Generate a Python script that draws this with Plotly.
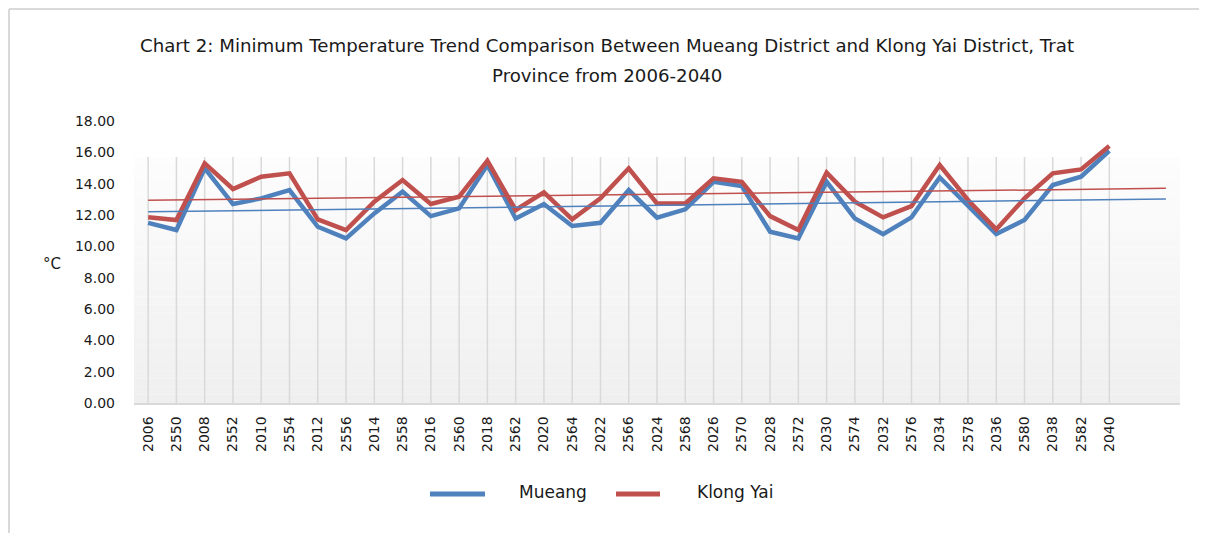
import numpy as np
import plotly.graph_objects as go

tick_labels = ["2006", "2550", "2008", "2552", "2010", "2554", "2012", "2556", "2014", "2558",
               "2016", "2560", "2018", "2562", "2020", "2564", "2022", "2566", "2024", "2568",
               "2026", "2570", "2028", "2572", "2030", "2574", "2032", "2576", "2034", "2578",
               "2036", "2580", "2038", "2582", "2040"]

mueang = [11.50, 11.04, 14.98, 12.70, 13.06, 13.59, 11.25, 10.51, 12.10, 13.49,
          11.93, 12.42, 15.19, 11.78, 12.70, 11.30, 11.50, 13.59, 11.83, 12.36,
          14.12, 13.85, 10.93, 10.51, 14.12, 11.78, 10.78, 11.85, 14.40, 12.64,
          10.78, 11.68, 13.91, 14.44, 16.10]

klong_yai = [11.85, 11.68, 15.30, 13.66, 14.44, 14.66, 11.72, 11.04, 12.85, 14.23,
             12.70, 13.17, 15.46, 12.32, 13.44, 11.72, 13.06, 14.98, 12.74, 12.74,
             14.34, 14.12, 11.93, 11.04, 14.70, 12.85, 11.85, 12.57, 15.19, 12.96,
             11.08, 13.06, 14.66, 14.91, 16.40]

series_names = ["Mueang", "Klong Yai"]
forecast_periods = 2

BLUE = "#4F81BD"
RED = "#C0504D"
FONT = "DejaVu Sans, Noto Sans, sans-serif"

# page body has an 8px default margin: figure drawn 8px smaller and offsets compensated
OFF = 8
W, H = 1207 - OFF, 533 - OFF
PL, PR, PT, PB = 134, 1180, 121, 403          # target plot area in window pixels
L, R, T, B = PL - OFF, W - (PR - OFF), PT - OFF, H - (PB - OFF)
PW, PH = W - L - R, H - T - B


def px_x(p):
    return (p - OFF - L) / PW


def px_y(p):
    return (H - B - (p - OFF)) / PH


x = np.arange(len(tick_labels))
x_trend = np.array([0, len(tick_labels) - 1 + forecast_periods])

fig = go.Figure()

# gradient plot background (white top -> light grey bottom)
n_strips = 30
top_val, bot_val = 15.7, 0.0
for k in range(n_strips):
    y0 = top_val - (top_val - bot_val) * k / n_strips
    y1 = top_val - (top_val - bot_val) * (k + 1) / n_strips
    c = int(round(253 - 14 * (k + 0.5) / n_strips))
    fig.add_shape(type="rect", xref="paper", yref="y", x0=0, x1=1, y0=y1, y1=y0,
                  fillcolor=f"rgb({c},{c},{c})", line=dict(width=0), layer="below")

# vertical category gridlines
for xi in x:
    fig.add_shape(type="line", xref="x", yref="y", x0=xi, x1=xi, y0=0, y1=top_val,
                  line=dict(color="#D9D9D9", width=1.5), layer="below")

for name, series, col in ((series_names[0], mueang, BLUE), (series_names[1], klong_yai, RED)):
    fig.add_trace(go.Scatter(x=x, y=series, mode="lines", name=name, showlegend=False,
                             line=dict(color=col, width=4.5)))

for series, col in ((mueang, BLUE), (klong_yai, RED)):
    m, b = np.polyfit(x, series, 1)
    fig.add_trace(go.Scatter(x=x_trend, y=m * x_trend + b, mode="lines", showlegend=False,
                             line=dict(color=col, width=1.5)))

fig.update_layout(
    width=W, height=H,
    margin=dict(l=L, r=R, t=T, b=B, autoexpand=False),
    paper_bgcolor="white", plot_bgcolor="white",
    font=dict(family=FONT, color="#1a1a1a"),
    showlegend=False,
    xaxis=dict(range=[-0.5, len(tick_labels) - 1 + forecast_periods + 0.5],
               tickmode="array", tickvals=list(x), ticktext=tick_labels,
               tickangle=-90, tickfont=dict(size=14), showgrid=False, zeroline=False,
               showline=True, linecolor="#D9D9D9", linewidth=1.5, ticks="",
               ticklabelstandoff=6),
    yaxis=dict(range=[0, 18], tickvals=[0, 2, 4, 6, 8, 10, 12, 14, 16, 18],
               ticktext=["0.00", "2.00", "4.00", "6.00", "8.00", "10.00", "12.00", "14.00", "16.00", "18.00"],
               tickfont=dict(size=14), showgrid=False, zeroline=False, showline=False,
               ticks="", ticklabelstandoff=18),
)

# title (two lines)
fig.add_annotation(text="Chart 2: Minimum Temperature Trend Comparison Between Mueang District and Klong Yai District, Trat",
                   xref="paper", yref="paper", x=px_x(607), y=px_y(45), showarrow=False,
                   xanchor="center", yanchor="middle", font=dict(size=18.2))
fig.add_annotation(text="Province from 2006-2040",
                   xref="paper", yref="paper", x=px_x(607), y=px_y(75), showarrow=False,
                   xanchor="center", yanchor="middle", font=dict(size=18.2))

fig.add_annotation(text="°C", xref="paper", yref="paper", x=px_x(52), y=px_y(264),
                   showarrow=False, font=dict(size=15), xanchor="center", yanchor="middle")

# legend (drawn manually to match spacing)
leg_y = px_y(494)
for (x0, x1, tx, name, col) in ((430, 485, 517, series_names[0], BLUE),
                                (616, 660, 695, series_names[1], RED)):
    fig.add_shape(type="line", xref="paper", yref="paper", x0=px_x(x0), x1=px_x(x1),
                  y0=leg_y, y1=leg_y, line=dict(color=col, width=5))
    fig.add_annotation(text=name, xref="paper", yref="paper", x=px_x(tx), y=px_y(492),
                       showarrow=False, xanchor="left", yanchor="middle", font=dict(size=17))

# outer chart border (top and left visible in reference), kept just inside the figure
fig.add_shape(type="line", xref="paper", yref="paper", x0=px_x(9), x1=px_x(1207), y0=px_y(9), y1=px_y(9),
              line=dict(color="#D9D9D9", width=2))
fig.add_shape(type="line", xref="paper", yref="paper", x0=px_x(9), x1=px_x(9), y0=px_y(533), y1=px_y(9),
              line=dict(color="#D9D9D9", width=2))

fig.write_html("out.html")
